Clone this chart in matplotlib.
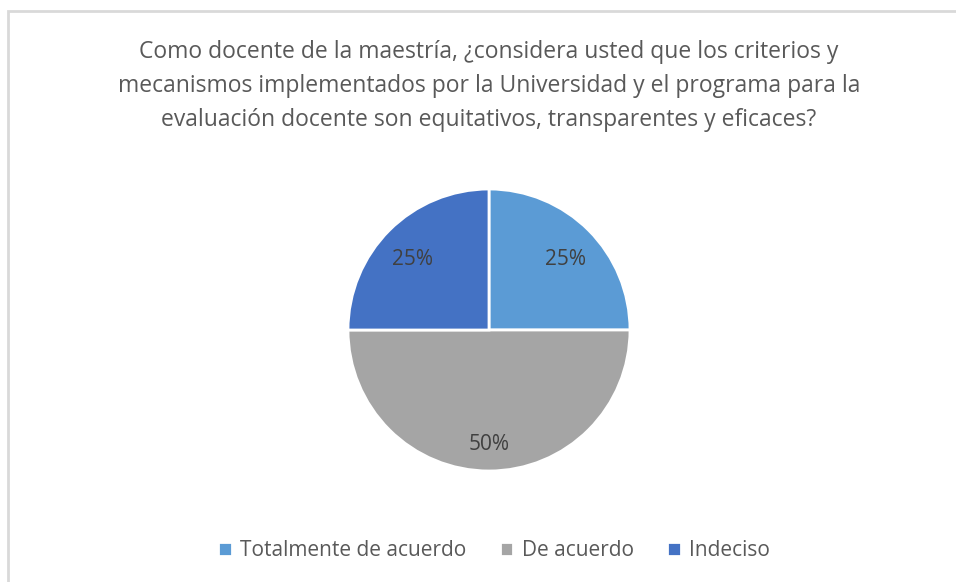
import matplotlib
matplotlib.use("Agg")
import matplotlib.pyplot as plt
from matplotlib.patches import Rectangle

# Datos del gráfico
categorias = ["Totalmente de acuerdo", "De acuerdo", "Indeciso"]
porcentajes = [25, 50, 25]
colores = ["#5B9BD5", "#A5A5A5", "#4472C4"]
titulo = ("Como docente de la maestría, ¿considera usted que los criterios y\n"
          "mecanismos implementados por la Universidad y el programa para la\n"
          "evaluación docente son equitativos, transparentes y eficaces?")

plt.rcParams['font.family'] = ['Open Sans', 'DejaVu Sans']
gris = "#595959"

W, H = 956, 582
fig = plt.figure(figsize=(W / 100, H / 100), dpi=100)

# Marco del gráfico
fig.patches.append(Rectangle((8 / W, -0.1), 1.1, (H - 11) / H + 0.1, transform=fig.transFigure,
                             fill=False, edgecolor="#D9D9D9", linewidth=2))

# Titulo
fig.text(489 / W, 1 - 86 / H, titulo, ha="center", va="center", fontsize=16.5,
         color=gris, linespacing=1.55)

# Pastel
cx, cy, r = 489, 330, 141
ax = fig.add_axes([(cx - r) / W, (H - cy - r) / H, 2 * r / W, 2 * r / H])
wedges, textos, pcts = ax.pie(porcentajes, colors=colores, startangle=90, counterclock=False,
                              autopct="%d%%", pctdistance=0.77,
                              wedgeprops=dict(edgecolor="white", linewidth=2))
for t in pcts:
    t.set_color("#404040")
    t.set_fontsize(15)
    x, y = t.get_position()
    t.set_position((x, y - 0.045))  # Excel baja un poco las etiquetas
ax.set_xlim(-1, 1)
ax.set_ylim(-1, 1)
ax.set_aspect("equal")
ax.axis("off")

# Leyenda
fig.legend(wedges, categorias, loc="center", bbox_to_anchor=(494 / W, 1 - 551 / H),
           ncol=3, frameon=False, fontsize=15, labelcolor=gris, handlelength=0.65,
           handleheight=0.65, handletextpad=0.4, columnspacing=1.6)

fig.savefig("out.png", dpi=100)
